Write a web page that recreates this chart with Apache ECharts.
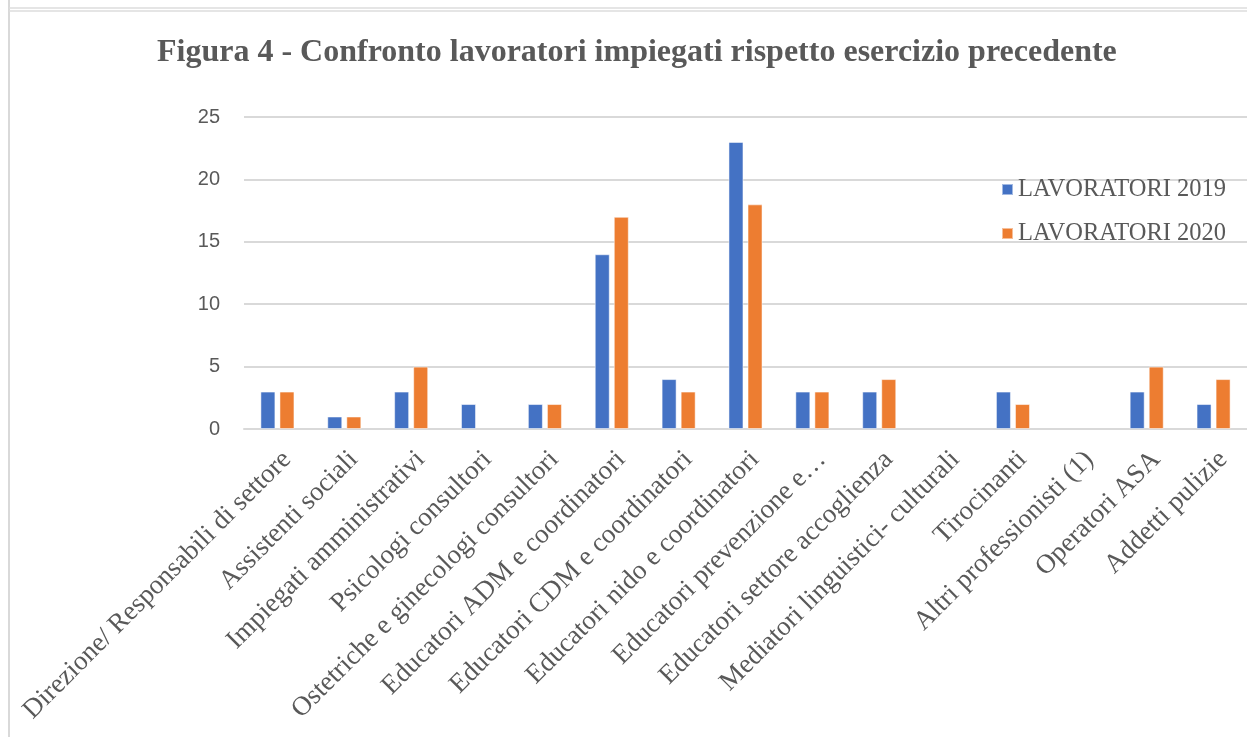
<!DOCTYPE html>
<html>
<head>
<meta charset="utf-8">
<script src="https://cdn.jsdelivr.net/npm/echarts@6/dist/echarts.min.js"></script>
<style>
html,body{margin:0;padding:0;background:#fff;}
#chart{width:1247px;height:737px;}
</style>
</head>
<body>
<div id="chart"></div>
<script>
const categories = [
  "Direzione/ Responsabili di settore",
  "Assistenti sociali",
  "Impiegati amministrativi",
  "Psicologi consultori",
  "Ostetriche e ginecologi consultori",
  "Educatori ADM e coordinatori",
  "Educatori CDM e coordinatori",
  "Educatori nido e coordinatori",
  "Educatori prevenzione e\u2026",
  "Educatori settore accoglienza",
  "Mediatori linguistici- culturali",
  "Tirocinanti",
  "Altri professionisti (1)",
  "Operatori ASA",
  "Addetti pulizie"
];
const lavoratori2019 = [3, 1, 3, 2, 2, 14, 4, 23, 3, 3, null, 3, null, 3, 2];
const lavoratori2020 = [3, 1, 5, null, 2, 17, 3, 18, 3, 4, null, 2, null, 5, 4];
const seriesNames = ["LAVORATORI 2019", "LAVORATORI 2020"];
const titleText = "Figura 4 - Confronto lavoratori impiegati rispetto esercizio precedente";

const chart = echarts.init(document.getElementById('chart'), null, {renderer: 'canvas'});
const textGray = '#595959';
const serif = '"Liberation Serif", "Times New Roman", serif';
const sans = '"Liberation Sans", Arial, sans-serif';

chart.setOption({
  animation: false,
  backgroundColor: '#ffffff',
  title: {
    text: titleText,
    left: 152,
    top: 32,
    textStyle: {fontFamily: serif, fontWeight: 'bold', fontSize: 32, color: textGray}
  },
  legend: {
    orient: 'vertical',
    left: 1001,
    top: 177,
    padding: 0,
    itemWidth: 11,
    itemHeight: 11,
    itemGap: 19,
    icon: 'rect',
    data: seriesNames,
    textStyle: {fontFamily: serif, fontSize: 24.5, color: textGray}
  },
  grid: {left: 244, right: -11, top: 117, bottom: 308, containLabel: false},
  xAxis: {
    type: 'category',
    data: categories,
    axisLine: {show: true, lineStyle: {color: '#d9d9d9', width: 2}},
    axisTick: {show: false},
    axisLabel: {
      interval: 0,
      rotate: 45,
      margin: 17,
      verticalAlign: 'top',
      fontFamily: serif,
      fontSize: 27,
      color: textGray
    }
  },
  yAxis: {
    type: 'value',
    min: 0,
    max: 25,
    interval: 5,
    axisLine: {show: false},
    axisTick: {show: false},
    splitLine: {lineStyle: {color: '#d9d9d9', width: 2}},
    axisLabel: {margin: 24, fontFamily: sans, fontSize: 20, color: textGray}
  },
  series: [
    {
      name: seriesNames[0],
      type: 'bar',
      data: lavoratori2019,
      barWidth: 15,
      barGap: '27%',
      itemStyle: {color: '#4472C4', borderColor: 'rgba(255,255,255,0.5)', borderWidth: 1}
    },
    {
      name: seriesNames[1],
      type: 'bar',
      data: lavoratori2020,
      barWidth: 15,
      barGap: '27%',
      itemStyle: {color: '#ED7D31', borderColor: 'rgba(255,255,255,0.5)', borderWidth: 1}
    }
  ],
  graphic: [
    {type: 'line', shape: {x1: 9, y1: 0, x2: 9, y2: 737}, style: {stroke: '#d9d9d9', lineWidth: 2}, silent: true},
    {type: 'line', shape: {x1: 9, y1: 8, x2: 1247, y2: 8}, style: {stroke: '#dcdcdc', lineWidth: 1.5}, silent: true},
    {type: 'line', shape: {x1: 9, y1: 11, x2: 1247, y2: 11}, style: {stroke: '#dcdcdc', lineWidth: 1.5}, silent: true}
  ]
});
</script>
</body>
</html>
